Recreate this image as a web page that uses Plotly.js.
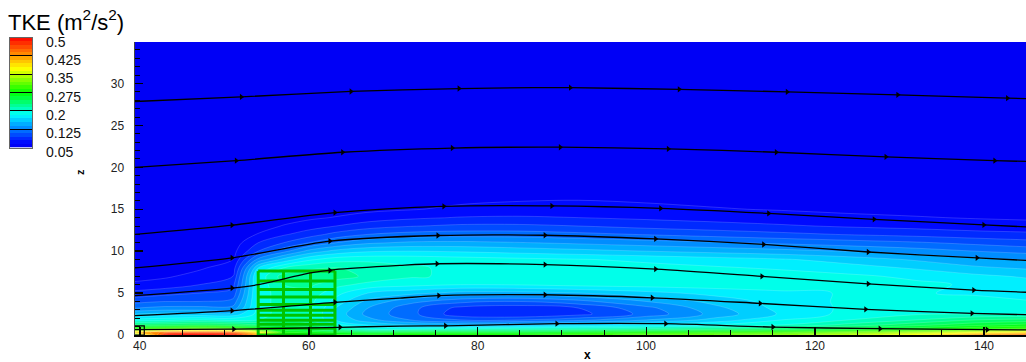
<!DOCTYPE html>
<html>
<head>
<meta charset="utf-8">
<script src="https://cdn.plot.ly/plotly-3.0.1.min.js"></script>
<style>html,body{margin:0;padding:0;background:#fff;}#chart{width:1026px;height:362px;}</style>
</head>
<body>
<div id="chart"></div>
<script>
// ---------- TKE field ----------
const tkeX = [39.4, 43, 47, 51, 54, 57, 60, 63.2, 67, 72, 78, 85, 92, 100, 108, 116, 124, 132, 139, 145];
const tkeZ = [0, 0.3, 0.7, 1.2, 1.8, 2.5, 3.2, 4, 5, 6, 7, 8, 9, 10, 11, 12, 13, 14, 15, 16.5, 20, 35];
const tke = [
  [0.30, 0.49, 0.50, 0.49, 0.42, 0.30, 0.29, 0.28, 0.28, 0.29, 0.29, 0.29, 0.30, 0.31, 0.32, 0.33, 0.35, 0.38, 0.43, 0.45],
  [0.40, 0.45, 0.46, 0.45, 0.38, 0.28, 0.27, 0.26, 0.25, 0.26, 0.26, 0.26, 0.27, 0.28, 0.29, 0.30, 0.32, 0.34, 0.37, 0.39],
  [0.30, 0.31, 0.32, 0.31, 0.28, 0.25, 0.24, 0.22, 0.20, 0.20, 0.205, 0.21, 0.215, 0.22, 0.23, 0.24, 0.255, 0.27, 0.29, 0.30],
  [0.235, 0.24, 0.245, 0.24, 0.23, 0.23, 0.22, 0.19, 0.17, 0.155, 0.15, 0.155, 0.165, 0.175, 0.185, 0.2, 0.22, 0.24, 0.255, 0.265],
  [0.19, 0.195, 0.20, 0.195, 0.20, 0.215, 0.205, 0.17, 0.145, 0.125, 0.11, 0.11, 0.12, 0.14, 0.16, 0.185, 0.2, 0.215, 0.23, 0.235],
  [0.155, 0.16, 0.16, 0.16, 0.19, 0.21, 0.205, 0.165, 0.135, 0.115, 0.085, 0.08, 0.09, 0.115, 0.145, 0.172, 0.19, 0.198, 0.2, 0.2],
  [0.125, 0.13, 0.13, 0.13, 0.19, 0.21, 0.205, 0.17, 0.14, 0.115, 0.09, 0.085, 0.095, 0.12, 0.15, 0.175, 0.188, 0.192, 0.192, 0.19],
  [0.105, 0.11, 0.11, 0.115, 0.19, 0.21, 0.205, 0.18, 0.15, 0.13, 0.115, 0.11, 0.12, 0.14, 0.16, 0.177, 0.188, 0.19, 0.19, 0.186],
  [0.085, 0.09, 0.095, 0.10, 0.19, 0.21, 0.21, 0.19, 0.17, 0.16, 0.15, 0.15, 0.155, 0.165, 0.175, 0.182, 0.186, 0.186, 0.183, 0.18],
  [0.068, 0.072, 0.08, 0.09, 0.19, 0.215, 0.218, 0.205, 0.195, 0.19, 0.185, 0.186, 0.19, 0.192, 0.193, 0.193, 0.192, 0.188, 0.183, 0.178],
  [0.06, 0.063, 0.07, 0.08, 0.19, 0.222, 0.225, 0.222, 0.212, 0.202, 0.197, 0.195, 0.195, 0.195, 0.193, 0.192, 0.188, 0.182, 0.174, 0.168],
  [0.055, 0.058, 0.063, 0.072, 0.17, 0.2, 0.212, 0.216, 0.21, 0.202, 0.197, 0.194, 0.192, 0.19, 0.187, 0.183, 0.177, 0.168, 0.158, 0.153],
  [0.055, 0.055, 0.058, 0.065, 0.13, 0.16, 0.182, 0.193, 0.196, 0.195, 0.192, 0.189, 0.186, 0.182, 0.177, 0.172, 0.163, 0.153, 0.144, 0.139],
  [0.055, 0.055, 0.055, 0.06, 0.095, 0.12, 0.145, 0.16, 0.168, 0.17, 0.168, 0.164, 0.16, 0.155, 0.15, 0.145, 0.139, 0.132, 0.125, 0.12],
  [0.055, 0.055, 0.055, 0.057, 0.08, 0.095, 0.11, 0.125, 0.137, 0.143, 0.144, 0.141, 0.137, 0.132, 0.127, 0.122, 0.117, 0.112, 0.106, 0.101],
  [0.055, 0.055, 0.055, 0.055, 0.066, 0.078, 0.088, 0.10, 0.11, 0.116, 0.118, 0.118, 0.114, 0.109, 0.104, 0.099, 0.094, 0.09, 0.086, 0.084],
  [0.055, 0.055, 0.055, 0.055, 0.058, 0.066, 0.073, 0.08, 0.088, 0.094, 0.098, 0.098, 0.095, 0.09, 0.086, 0.082, 0.078, 0.075, 0.072, 0.07],
  [0.055, 0.055, 0.055, 0.055, 0.055, 0.058, 0.062, 0.066, 0.072, 0.077, 0.081, 0.082, 0.08, 0.077, 0.074, 0.071, 0.068, 0.066, 0.064, 0.063],
  [0.055, 0.055, 0.055, 0.055, 0.055, 0.055, 0.056, 0.058, 0.061, 0.064, 0.068, 0.07, 0.07, 0.068, 0.066, 0.064, 0.062, 0.06, 0.058, 0.058],
  [0.055, 0.055, 0.055, 0.055, 0.055, 0.055, 0.055, 0.056, 0.057, 0.058, 0.06, 0.062, 0.063, 0.062, 0.06, 0.058, 0.057, 0.056, 0.055, 0.055],
  [0.055, 0.055, 0.055, 0.055, 0.055, 0.055, 0.055, 0.055, 0.055, 0.055, 0.055, 0.055, 0.055, 0.055, 0.055, 0.055, 0.055, 0.055, 0.055, 0.055],
  [0.055, 0.055, 0.055, 0.055, 0.055, 0.055, 0.055, 0.055, 0.055, 0.055, 0.055, 0.055, 0.055, 0.055, 0.055, 0.055, 0.055, 0.055, 0.055, 0.055]
];
const legendTicks = [0.05, 0.125, 0.2, 0.275, 0.35, 0.425, 0.5];
const legendLabels = ['0.05', '0.125', '0.2', '0.275', '0.35', '0.425', '0.5'];
const xTicks = [40, 60, 80, 100, 120, 140];
const xTickLabels = ['40', '60', '80', '100', '120', '140'];

// ---------- streamlines ----------
const sl1X = [39.4, 52, 65, 77.8, 86.6, 91, 103.9, 116.7, 129.8, 142.8, 145];
const sl1Z = [27.85, 28.4, 29.05, 29.4, 29.5, 29.5, 29.3, 29.0, 28.65, 28.25, 28.2];
const ar1X = [52, 65, 77.8, 91, 103.9, 116.7, 129.8, 142.8];
const ar1Z = [28.4, 29.05, 29.4, 29.5, 29.3, 29.0, 28.65, 28.25];

const sl2X = [39.4, 51.4, 64.0, 77.0, 89.8, 102.6, 115.4, 128.4, 141.3, 145];
const sl2Z = [20.0, 20.8, 21.8, 22.3, 22.4, 22.2, 21.8, 21.25, 20.8, 20.7];
const ar2X = [51.4, 64.0, 77.0, 89.8, 102.6, 115.4, 128.4, 141.3];
const ar2Z = [20.8, 21.8, 22.3, 22.4, 22.2, 21.8, 21.25, 20.8];

const sl3X = [39.4, 50.9, 63.1, 76, 88.8, 101.7, 114.5, 127, 140, 145];
const sl3Z = [12.0, 13.1, 14.6, 15.35, 15.4, 15.1, 14.5, 13.8, 13.13, 12.9];
const ar3X = [50.9, 63.1, 76, 88.8, 101.7, 114.5, 127, 140];
const ar3Z = [13.1, 14.6, 15.35, 15.4, 15.1, 14.5, 13.8, 13.13];

const sl4X = [39.4, 50.9, 62.5, 75.3, 88, 101.1, 113.9, 126.3, 139.2, 145];
const sl4Z = [8.0, 9.2, 11.2, 11.87, 11.9, 11.46, 10.8, 9.9, 9.2, 8.9];
const ar4X = [50.9, 62.5, 75.3, 88, 101.1, 113.9, 126.3, 139.2];
const ar4Z = [9.2, 11.2, 11.87, 11.9, 11.46, 10.8, 9.9, 9.2];

const sl5X = [39.4, 50.9, 54, 60.2, 63.1, 70.8, 75.2, 88, 101.1, 113.7, 126.3, 138.8, 145];
const sl5Z = [4.7, 5.6, 6.0, 7.4, 7.8, 8.3, 8.5, 8.4, 7.86, 7.0, 6.1, 5.36, 5.1];
const ar5X = [50.9, 62.5, 75.2, 88, 101.1, 113.7, 126.3, 138.8];
const ar5Z = [5.6, 7.7, 8.5, 8.4, 7.86, 7.0, 6.1, 5.36];

const sl6X = [39.4, 50.9, 63.1, 70.8, 75.4, 88, 100.7, 113.5, 126, 138.6, 145];
const sl6Z = [2.3, 2.9, 3.9, 4.4, 4.7, 4.8, 4.44, 3.77, 3.06, 2.58, 2.42];
const ar6X = [50.9, 63.1, 75.4, 88, 100.7, 113.5, 126, 138.6];
const ar6Z = [2.9, 3.9, 4.7, 4.8, 4.44, 3.77, 3.06, 2.58];

const sl7X = [39.4, 51.1, 63.7, 70.8, 76.2, 89.4, 102.3, 115, 127.7, 140.4, 145];
const sl7Z = [0.65, 0.7, 0.92, 1.07, 1.1, 1.35, 1.35, 0.95, 0.75, 0.63, 0.6];
const ar7X = [51.1, 63.7, 76.2, 89.4, 102.3, 115, 127.7, 140.4];
const ar7Z = [0.7, 0.92, 1.1, 1.35, 1.35, 0.95, 0.75, 0.63];

// ---------- building (porous block) grid ----------
const bldX = [54, 57, 60.2, 63.1];
const bldZ = [0, 0.8, 1.27, 1.75, 2.35, 2.94, 3.65, 4.52, 5.44, 6.43, 7.62];

// small source box at inlet
const srcX = [39.4, 40.5];
const srcZ = [0, 1.1];

// ---------- contour settings / colours ----------
const cStart = 0.05, cEnd = 0.5, cSize = 0.015;
const cScale = [
  [0, '#0000f0'], [0.04, '#0000ff'], [0.3, '#00ffff'], [0.5, '#00ff00'],
  [0.72, '#ffff00'], [0.86, '#ff8000'], [1, '#ff0000']
];

// ---------- traces ----------
const traces = [];
traces.push({
  type: 'contour',
  x: tkeX, y: tkeZ, z: tke,
  zmin: cStart, zmax: cEnd, zauto: false,
  contours: {start: cStart, end: cEnd, size: cSize, coloring: 'fill', showlines: true},
  line: {color: 'rgba(255,255,255,0.28)', width: 0.6, smoothing: 1},
  colorscale: cScale, showscale: false,
  hoverinfo: 'skip'
});

// building grid lines
const bx = [], bz = [];
bldX.forEach(xv => { bx.push(xv, xv, null); bz.push(bldZ[0], bldZ[bldZ.length - 1], null); });
bldZ.forEach(zv => { bx.push(bldX[0], bldX[bldX.length - 1], null); bz.push(zv, zv, null); });
traces.push({type: 'scatter', mode: 'lines', x: bx, y: bz, connectgaps: false,
  line: {color: '#00c400', width: 3}, hoverinfo: 'skip', showlegend: false});

// source box
traces.push({type: 'scatter', mode: 'lines',
  x: [srcX[0], srcX[1], srcX[1], srcX[0]], y: [srcZ[1], srcZ[1], srcZ[0], srcZ[0]],
  line: {color: '#000', width: 1.2}, hoverinfo: 'skip', showlegend: false});

const streams = [[sl1X, sl1Z, ar1X, ar1Z], [sl2X, sl2Z, ar2X, ar2Z], [sl3X, sl3Z, ar3X, ar3Z],
                 [sl4X, sl4Z, ar4X, ar4Z], [sl5X, sl5Z, ar5X, ar5Z], [sl6X, sl6Z, ar6X, ar6Z],
                 [sl7X, sl7Z, ar7X, ar7Z]];
streams.forEach(s => {
  traces.push({type: 'scatter', mode: 'lines', x: s[0], y: s[1],
    line: {color: '#000', width: 1.3, shape: 'spline', smoothing: 0.8},
    hoverinfo: 'skip', showlegend: false});
  traces.push({type: 'scatter', mode: 'markers', x: s[2], y: s[3],
    marker: {symbol: 'triangle-right', size: 5.5, color: '#000', line: {width: 0}},
    hoverinfo: 'skip', showlegend: false});
});

// legend bar (discrete contour bands)
const lvl = [], mids = [];
for (let v = cStart; v <= cEnd + 1e-9; v += cSize) lvl.push(+v.toFixed(4));
for (let i = 0; i < lvl.length - 1; i++) mids.push([(lvl[i] + lvl[i + 1]) / 2]);
traces.push({type: 'heatmap', x: [0, 1], y: lvl, z: mids, xaxis: 'x2', yaxis: 'y2',
  zmin: cStart, zmax: cEnd, colorscale: cScale, showscale: false, hoverinfo: 'skip'});

// ---------- layout ----------
const W = 1026, H = 362, mL = 5, mR = 0, mT = 30, mB = 27;
const pw = W - mL - mR, ph = H - mT - mB;
const px = v => (v - mL) / pw;          // container px -> paper x
const py = v => (H - mB - v) / ph;       // container px -> paper y

const font = 'Liberation Sans, Arial, sans-serif';
const tickFont = {family: font, size: 12, color: '#222'};

const legendAnn = legendTicks.map((t, i) => ({
  text: legendLabels[i], xref: 'x2', yref: 'y2', x: 1, y: t,
  xanchor: 'left', yanchor: 'middle', xshift: 12, yshift: -4, showarrow: false,
  font: {family: font, size: 14, color: '#111'}
}));
const xTickAnn = xTicks.map((t, i) => ({
  text: xTickLabels[i], xref: 'x', yref: 'paper', x: t, y: 0,
  xanchor: 'center', yanchor: 'top', yshift: -2, showarrow: false,
  font: tickFont
}));

const layout = {
  width: W, height: H,
  margin: {l: mL, r: mR, t: mT, b: mB, pad: 0},
  paper_bgcolor: '#ffffff', plot_bgcolor: '#ffffff',
  showlegend: false,
  title: {text: 'TKE (m<sup>2</sup>/s<sup>2</sup>)', xref: 'container', yref: 'container',
          x: 8 / W, xanchor: 'left', y: 1 - 22 / H, yanchor: 'middle',
          font: {family: font, size: 22, color: '#000'}},
  xaxis: {
    domain: [px(135), 1], anchor: 'y',
    range: [39.4, 145], showgrid: false, zeroline: false,
    tickmode: 'array', tickvals: xTicks, showticklabels: false,
    ticks: 'inside', ticklen: 8, tickwidth: 1.5, tickcolor: '#000',
    minor: {ticks: 'inside', dtick: 5, tick0: 40, ticklen: 5, tickcolor: '#000', tickwidth: 1},
    showline: true, linecolor: '#000', linewidth: 2
  },
  yaxis: {
    domain: [0, py(42)], anchor: 'x',
    range: [0, 34.95], showgrid: false, zeroline: false,
    tickmode: 'linear', tick0: 0, dtick: 5,
    ticks: 'inside', ticklen: 8, tickwidth: 1.5, tickcolor: '#000',
    minor: {ticks: 'inside', dtick: 1, tick0: 0, ticklen: 5, tickcolor: '#000', tickwidth: 1},
    showline: true, linecolor: '#444', linewidth: 1.5,
    tickfont: tickFont, ticklabelstandoff: 7
  },
  xaxis2: {
    domain: [px(10), px(32)], anchor: 'y2', range: [0, 1],
    showgrid: false, zeroline: false, showticklabels: false, ticks: '',
    showline: true, mirror: true, linecolor: '#666', linewidth: 1
  },
  yaxis2: {
    domain: [py(147.5), py(37.5)], anchor: 'x2', range: [cStart, cEnd], side: 'right',
    tickmode: 'array', tickvals: legendTicks, showticklabels: false,
    showgrid: false, zeroline: false,
    ticks: 'inside', ticklen: 22, tickwidth: 1, tickcolor: '#000', layer: 'above traces',
    showline: true, mirror: true, linecolor: '#666', linewidth: 1
  },
  annotations: legendAnn.concat(xTickAnn, [
    {text: '<b>x</b>', xref: 'paper', yref: 'paper', x: px(587), y: py(355),
     xanchor: 'center', yanchor: 'middle', showarrow: false,
     font: {family: font, size: 12, color: '#000'}},
    {text: '<b>z</b>', xref: 'paper', yref: 'paper', x: px(80), y: py(172),
     xanchor: 'center', yanchor: 'middle', showarrow: false, textangle: -90,
     font: {family: font, size: 11, color: '#000'}}
  ])
};

Plotly.newPlot('chart', traces, layout, {staticPlot: true, displayModeBar: false});
</script>
</body>
</html>
